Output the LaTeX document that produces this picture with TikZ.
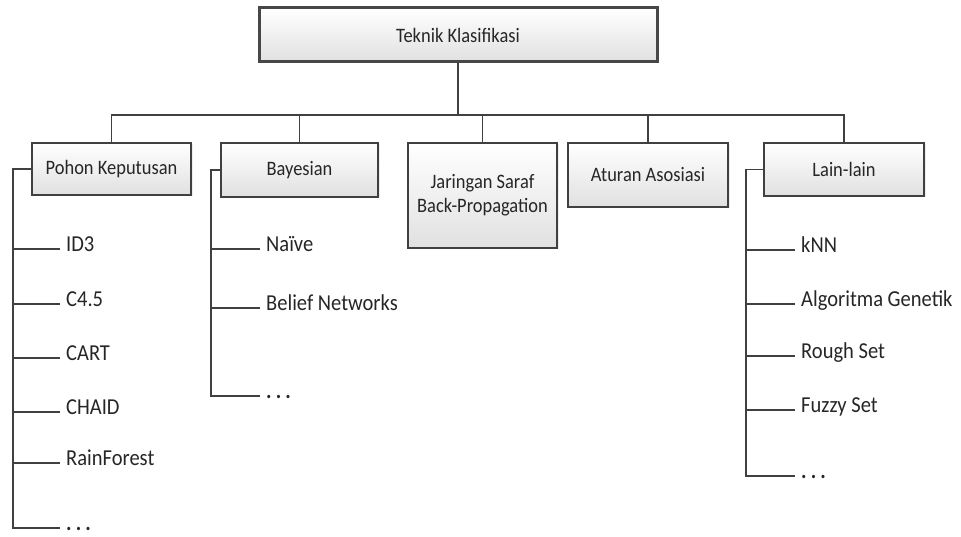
\documentclass[tikz,border=0pt]{standalone}
\usepackage{fontspec}
\setmainfont[FakeStretch=0.9]{Carlito}
\usetikzlibrary{shadows}

\newcommand{\moredots}{\textbf{.\hspace{0.18em}.\hspace{0.18em}.}}

\begin{document}
\begin{tikzpicture}[
  x=1pt, y=-1pt,
  catbox/.style={draw=black!75, line width=1.1pt, align=center, inner sep=0pt,
    top color=white, bottom color=black!12, text=black!85,
    drop shadow={opacity=0.15, shadow xshift=1.5pt, shadow yshift=-1.5pt},
    font=\fontsize{20.5}{24}\selectfont},
  topbox/.style={catbox, line width=3pt, draw=black!72},
  item/.style={anchor=west, inner xsep=6pt, inner ysep=0pt, text height=0.62em,
    text depth=0.2em, text=black!85, font=\fontsize{22.8}{26}\selectfont},
  link/.style={draw=black!75, line width=1.1pt}
]
\useasboundingbox (0,0) rectangle (961,537);

% root and categories
\node[topbox, minimum width=398pt, minimum height=54pt] (root) at (458,35) {Teknik Klasifikasi};
\node[catbox, minimum width=159pt, minimum height=52pt] (pohon) at (111.5,169) {Pohon Keputusan};
\node[catbox, minimum width=157pt, minimum height=54pt] (bayes) at (299.5,170) {Bayesian};
\node[catbox, minimum width=149pt, minimum height=105pt] (jst) at (482.5,195.5) {Jaringan Saraf\\Back-Propagation};
\node[catbox, minimum width=160pt, minimum height=64pt] (aturan) at (648,175) {Aturan Asosiasi};
\node[catbox, minimum width=160pt, minimum height=53pt] (lain) at (844,169.5) {Lain-lain};

\coordinate (bus) at (458,115);
\draw[link] (root.south) -- (bus);
\foreach \c in {pohon,bayes,jst,aturan,lain}
  \draw[link] (bus) -| (\c.north);

% pohon keputusan
\node[item] (id3) at (60,249) {ID3};
\node[item] (c45) at (60,304) {C4.5};
\node[item] (cart) at (60,358) {CART};
\node[item] (chaid) at (60,412) {CHAID};
\node[item] (rain) at (60,463) {RainForest};
\node[item] (pdots) at (60,528) {\moredots};
\coordinate (pspine) at (13,0);
\foreach \i in {id3,c45,cart,chaid,rain,pdots}
  \draw[link] (pohon.west) -| (pspine |- \i.west) -- (\i.west);

% bayesian
\node[item] (naive) at (260,249) {Naïve};
\node[item] (belief) at (260,308) {Belief Networks};
\node[item] (bdots) at (260,396) {\moredots};
\coordinate (bspine) at (211,0);
\foreach \i in {naive,belief,bdots}
  \draw[link] (bayes.west) -| (bspine |- \i.west) -- (\i.west);

% lain-lain
\node[item] (knn) at (795,250) {kNN};
\node[item] (genetik) at (795,304) {Algoritma Genetik};
\node[item] (rough) at (795,356) {Rough Set};
\node[item] (fuzzy) at (795,410) {Fuzzy Set};
\node[item] (ldots) at (795,476) {\moredots};
\coordinate (lspine) at (746,0);
\foreach \i in {knn,genetik,rough,fuzzy,ldots}
  \draw[link] (lain.west) -| (lspine |- \i.west) -- (\i.west);

\end{tikzpicture}
\end{document}
